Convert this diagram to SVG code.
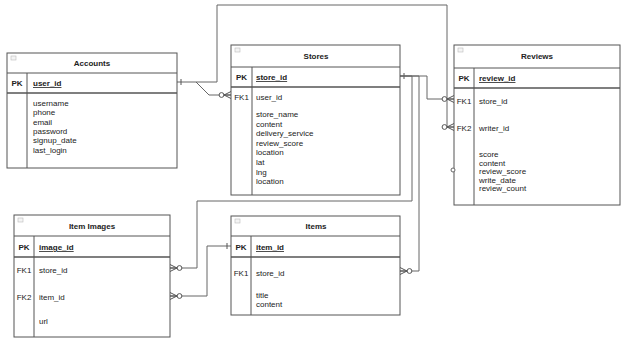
<svg xmlns="http://www.w3.org/2000/svg" width="625" height="351" viewBox="0 0 625 351">
<style>
text{font-family:"Liberation Sans",Arial,sans-serif;font-size:8px;fill:#222}
.t{font-weight:bold;text-anchor:middle}
.k{font-weight:bold;text-anchor:middle}
.c{text-anchor:middle}
.pk{font-weight:bold;text-decoration:underline}
.box{fill:#fff;stroke:#555;stroke-width:1}
.ln{stroke:#555;stroke-width:1;fill:none}
.sep{stroke:#555;stroke-width:1.6;fill:none}
.ic{fill:#f4f4f4;stroke:#bbb;stroke-width:0.6}
.con{stroke:#666;stroke-width:1;fill:none}
</style>
<defs>
<marker id="zmany" markerUnits="userSpaceOnUse" markerWidth="16" markerHeight="10" refX="15" refY="5" orient="auto" overflow="visible">
<path d="M8,5 L15,1.5 M8,5 L15,5 M8,5 L15,8.5" stroke="#555" stroke-width="1" fill="none"/>
<circle cx="5.5" cy="5" r="2.4" fill="#fff" stroke="#555" stroke-width="1"/>
</marker>
<marker id="one" markerUnits="userSpaceOnUse" markerWidth="10" markerHeight="10" refX="0" refY="5" orient="auto" overflow="visible">
<line x1="4" y1="2" x2="4" y2="8" stroke="#555" stroke-width="1"/>
</marker>
</defs>
<rect width="625" height="351" fill="#fff"/>

<g id="connectors">
<path class="con" d="M177,82 H217 V5 H447 V127 H454" marker-start="url(#one)" marker-end="url(#zmany)"/>
<path class="con" d="M196,82 L209,95 H231" marker-end="url(#zmany)"/>
<path class="con" d="M400,76 H427 V99 H454" marker-start="url(#one)" marker-end="url(#zmany)"/>
<path class="con" d="M400,76 H412 V201 H197 V268 H170" marker-end="url(#zmany)"/>
<path class="con" d="M400,76 H419 V271 H400" marker-end="url(#zmany)"/>
<path class="con" d="M231,246 H207 V296 H170" marker-start="url(#one)" marker-end="url(#zmany)"/>
</g>

<g id="accounts">
<rect class="box" x="7" y="53" width="170" height="115"/>
<line class="ln" x1="7" y1="73" x2="177" y2="73"/>
<line class="sep" x1="7" y1="93" x2="177" y2="93"/>
<line class="ln" x1="27" y1="73" x2="27" y2="168"/>
<rect class="ic" x="11" y="56" width="5" height="4"/>
<text class="t" x="92" y="66">Accounts</text>
<text class="k" x="17" y="86">PK</text>
<text class="pk" x="33" y="86">user_id</text>
<text x="33" y="106">username</text>
<text x="33" y="115.3">phone</text>
<text x="33" y="124.6">email</text>
<text x="33" y="133.9">password</text>
<text x="33" y="143.2">signup_date</text>
<text x="33" y="152.5">last_login</text>
</g>

<g id="stores">
<rect class="box" x="231" y="45" width="169" height="150"/>
<line class="ln" x1="231" y1="67" x2="400" y2="67"/>
<line class="sep" x1="231" y1="87" x2="400" y2="87"/>
<line class="ln" x1="252" y1="67" x2="252" y2="195"/>
<rect class="ic" x="235" y="48" width="5" height="4"/>
<text class="t" x="316" y="59">Stores</text>
<text class="k" x="241.5" y="80">PK</text>
<text class="pk" x="256" y="80">store_id</text>
<text class="c" x="241.5" y="100">FK1</text>
<text x="256" y="100">user_id</text>
<text x="256" y="117">store_name</text>
<text x="256" y="126.6">content</text>
<text x="256" y="136.2">delivery_service</text>
<text x="256" y="145.8">review_score</text>
<text x="256" y="155.4">location</text>
<text x="256" y="165">lat</text>
<text x="256" y="174.6">lng</text>
<text x="256" y="184.2">location</text>
</g>

<g id="reviews">
<rect class="box" x="454" y="45" width="166" height="160"/>
<line class="ln" x1="454" y1="68" x2="620" y2="68"/>
<line class="sep" x1="454" y1="88" x2="620" y2="88"/>
<line class="ln" x1="474" y1="68" x2="474" y2="205"/>
<rect class="ic" x="458" y="48" width="5" height="4"/>
<text class="t" x="537" y="59">Reviews</text>
<text class="k" x="464" y="81">PK</text>
<text class="pk" x="479" y="81">review_id</text>
<text class="c" x="464" y="104">FK1</text>
<text x="479" y="104">store_id</text>
<text class="c" x="464" y="131">FK2</text>
<text x="479" y="131">writer_id</text>
<text x="479" y="157">score</text>
<text x="479" y="165.6">content</text>
<text x="479" y="174.2">review_score</text>
<text x="479" y="182.8">write_date</text>
<text x="479" y="191.4">review_count</text>
<circle cx="453" cy="170" r="2" fill="#fff" stroke="#666" stroke-width="1"/>
</g>

<g id="item-images">
<rect class="box" x="14" y="215" width="156" height="122"/>
<line class="ln" x1="14" y1="236" x2="170" y2="236"/>
<line class="sep" x1="14" y1="257" x2="170" y2="257"/>
<line class="ln" x1="34" y1="236" x2="34" y2="337"/>
<rect class="ic" x="18" y="218" width="5" height="4"/>
<text class="t" x="92" y="229">Item Images</text>
<text class="k" x="24" y="250">PK</text>
<text class="pk" x="39" y="250">image_id</text>
<text class="c" x="24" y="273">FK1</text>
<text x="39" y="273">store_id</text>
<text class="c" x="24" y="300">FK2</text>
<text x="39" y="300">item_id</text>
<text x="39" y="324">url</text>
</g>

<g id="items">
<rect class="box" x="231" y="216" width="169" height="99"/>
<line class="ln" x1="231" y1="236" x2="400" y2="236"/>
<line class="sep" x1="231" y1="257" x2="400" y2="257"/>
<line class="ln" x1="251" y1="236" x2="251" y2="315"/>
<rect class="ic" x="235" y="219" width="5" height="4"/>
<text class="t" x="316" y="229">Items</text>
<text class="k" x="241" y="250">PK</text>
<text class="pk" x="256" y="250">item_id</text>
<text class="c" x="241" y="276">FK1</text>
<text x="256" y="276">store_id</text>
<text x="256" y="298">title</text>
<text x="256" y="307">content</text>
</g>
</svg>
